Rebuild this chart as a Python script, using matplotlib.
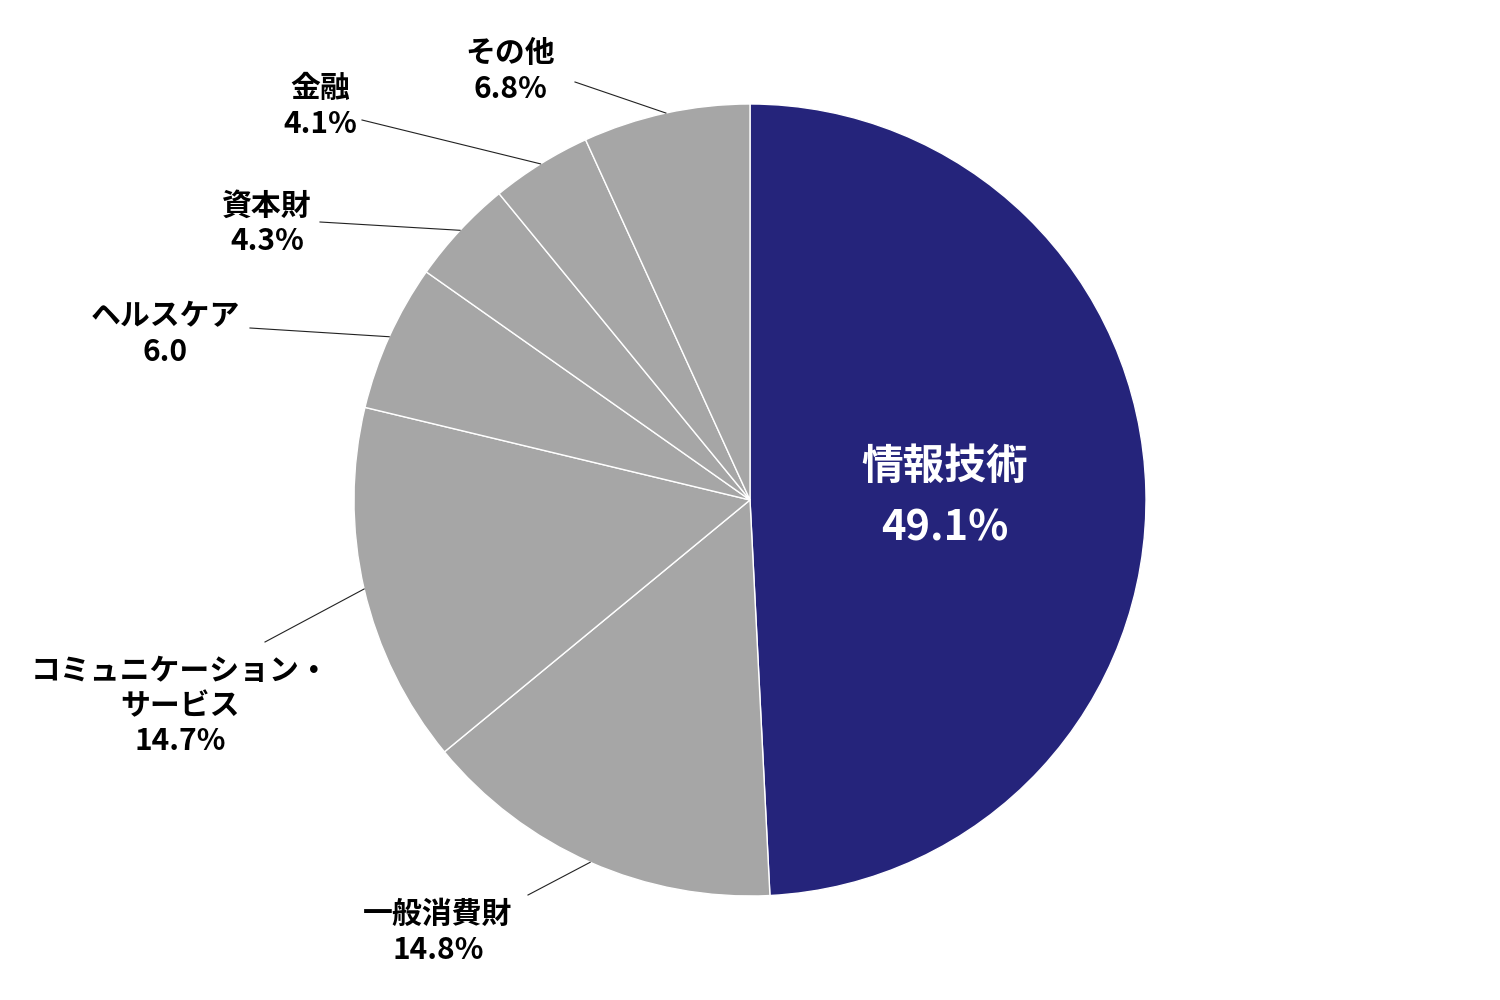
import numpy as np
import matplotlib
matplotlib.use("Agg")
import matplotlib.pyplot as plt

plt.rcParams['font.family'] = ['Noto Sans CJK JP', 'DejaVu Sans']

sectors = ['情報技術', '一般消費財', 'コミュニケーション・\nサービス', 'ヘルスケア',
           '資本財', '金融', 'その他']
shares = [49.1, 14.8, 14.7, 6.0, 4.3, 4.1, 6.8]
share_text = ['49.1%', '14.8%', '14.7%', '6.0', '4.3%', '4.1%', '6.8%']
colors = ['#25247b'] + ['#a6a6a6'] * 6

# label layout in pixels: text centre, leader start
label_pos = [(945, 498), (438, 932), (180, 706), (165, 334),
             (267, 223), (320, 106), (510, 71)]
leader_start = [None, (528, 895), (265, 642), (250, 328),
                (320, 222), (362, 120), (575, 82)]

W, H = 1500, 1000
cx, cy, R = 750, 500, 396


def to_data(p):
    return ((p[0] - cx) / R, (cy - p[1]) / R)


fig = plt.figure(figsize=(15, 10), dpi=100)
ax = fig.add_axes([0, 0, 1, 1])
ax.axis('off')

wedges, _ = ax.pie(shares, colors=colors, startangle=90, counterclock=False,
                   radius=1,
                   wedgeprops=dict(edgecolor='white', linewidth=1))
ax.set_aspect('equal')
ax.set_xlim(-cx / R, (W - cx) / R)
ax.set_ylim(-(H - cy) / R, cy / R)

for i, w in enumerate(wedges):
    mid = np.deg2rad((w.theta1 + w.theta2) / 2)
    tx, ty = to_data(label_pos[i])
    if i == 0:
        ax.text(tx, ty, sectors[i] + '\n' + share_text[i], ha='center', va='center',
                color='white', fontsize=30, fontweight='bold', linespacing=1.6)
        continue
    ax.text(tx, ty, sectors[i] + '\n' + share_text[i], ha='center', va='center',
            color='black', fontsize=21.5, fontweight='bold', linespacing=1.22)
    sx, sy = to_data(leader_start[i])
    ax.plot([sx, np.cos(mid)], [sy, np.sin(mid)], color='#222222', lw=0.8)

fig.savefig('out.png', dpi=100, facecolor='white')
